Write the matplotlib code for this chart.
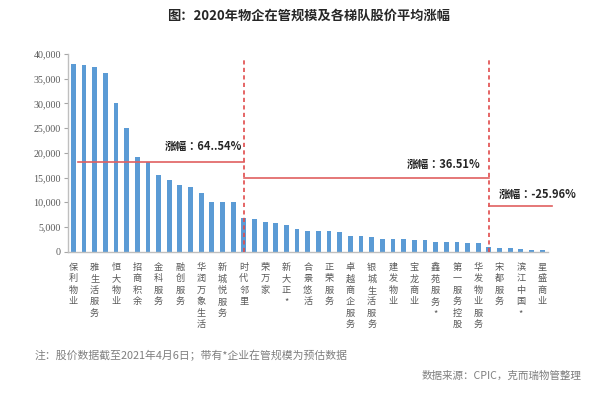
import matplotlib
matplotlib.use("Agg")
import matplotlib.pyplot as plt
import numpy as np

plt.rcParams['font.family'] = ['Noto Sans CJK SC', 'DejaVu Sans']

# Data
values = [38000, 37700, 37450, 36200, 30000, 25100, 19100, 18200, 15600, 14600,
          13500, 13100, 11800, 10100, 10100, 10000, 6880, 6560, 5950, 5750,
          5470, 4500, 4130, 4130, 4130, 3930, 3240, 3110, 3040, 2630,
          2550, 2500, 2300, 2300, 2020, 2020, 1960, 1820, 1750, 1010,
          810, 690, 610, 340, 340]
labels = ["保利物业", "雅生活服务", "恒大物业", "招商积余", "金科服务", "融创服务",
          "华润万象生活", "新城悦服务", "时代邻里", "荣万家", "新大正*", "合景悠活",
          "正荣服务", "卓越商企服务", "银城生活服务", "建发物业", "宝龙商业",
          "鑫苑服务*", "第一服务控股", "华发物业服务", "宋都服务", "滨江中国*", "星盛商业"]
label_positions = list(range(0, 45, 2))
tier_bounds = [16, 39]
tier_avg_lines = [(0.45, 16, 18100), (16, 39, 15000), (39, 44.95, 9300)]
tier_texts = ["涨幅：64..54%", "涨幅：36.51%", "涨幅：-25.96%"]
yticks = [0, 5000, 10000, 15000, 20000, 25000, 30000, 35000, 40000]

fig = plt.figure(figsize=(6, 3.99), dpi=100)
ax = fig.add_axes([68/600, 1-251.7/399, (547.5-68)/600, (251.7-54)/399])

x = np.arange(len(values))
ax.bar(x, values, width=0.45, color='#5B9BD5', zorder=2)

ax.set_xlim(-0.5, 44.5)
ax.set_ylim(0, 40000)
ax.set_yticks(yticks)
ax.set_yticklabels([f"{v:,}" for v in yticks], fontfamily='Liberation Serif',
                   fontsize=7.2, color='#595959')
ax.tick_params(axis='y', length=3, width=0.8, color='#A6A6A6', pad=2)

ax.set_xticks(label_positions)
ax.set_xticklabels(["\n".join(list(s)) for s in labels], fontsize=6.6,
                   color='#595959', linespacing=1.35, va='top')
ax.tick_params(axis='x', length=0, pad=8)

for s in ['top', 'right']:
    ax.spines[s].set_visible(False)
ax.spines['left'].set_color('#BFBFBF')
ax.spines['bottom'].set_color('#BFBFBF')
ax.spines['left'].set_linewidth(1.0)
ax.spines['bottom'].set_linewidth(1.0)

red = '#E04B4B'
for b in tier_bounds:
    ax.plot([b, b], [0, 38700], color=red, linestyle=(0, (2.5, 2)), linewidth=1.2,
            zorder=3, clip_on=False)
for x0, x1, y in tier_avg_lines:
    ax.plot([x0, x1], [y, y], color='#E06060', linewidth=1.2, zorder=3, clip_on=False)

ann_font = ['Noto Sans CJK TC', 'DejaVu Sans']
ax.text(15.85, 21300, tier_texts[0], ha='right', va='center', fontsize=8,
        fontweight='bold', color='#262626', family=ann_font)
ax.text(38.25, 17700, tier_texts[1], ha='right', va='center', fontsize=8,
        fontweight='bold', color='#262626', family=ann_font)
ax.text(39.95, 11620, tier_texts[2], ha='left', va='center', fontsize=8,
        fontweight='bold', color='#262626', clip_on=False, family=ann_font)

fig.text(308.5/600, 1-16/399, "图：2020年物企在管规模及各梯队股价平均涨幅",
         ha='center', va='center', fontsize=9.5, fontweight='bold', color='#262626')
fig.text(35/600, 1-355/399, "注：股价数据截至2021年4月6日；带有*企业在管规模为预估数据",
         ha='left', va='center', fontsize=7.8, color='#7F7F7F')
fig.text(581/600, 1-376/399, "数据来源：CPIC，克而瑞物管整理",
         ha='right', va='center', fontsize=7.6, color='#7F7F7F')

fig.savefig("out.png", dpi=100)
